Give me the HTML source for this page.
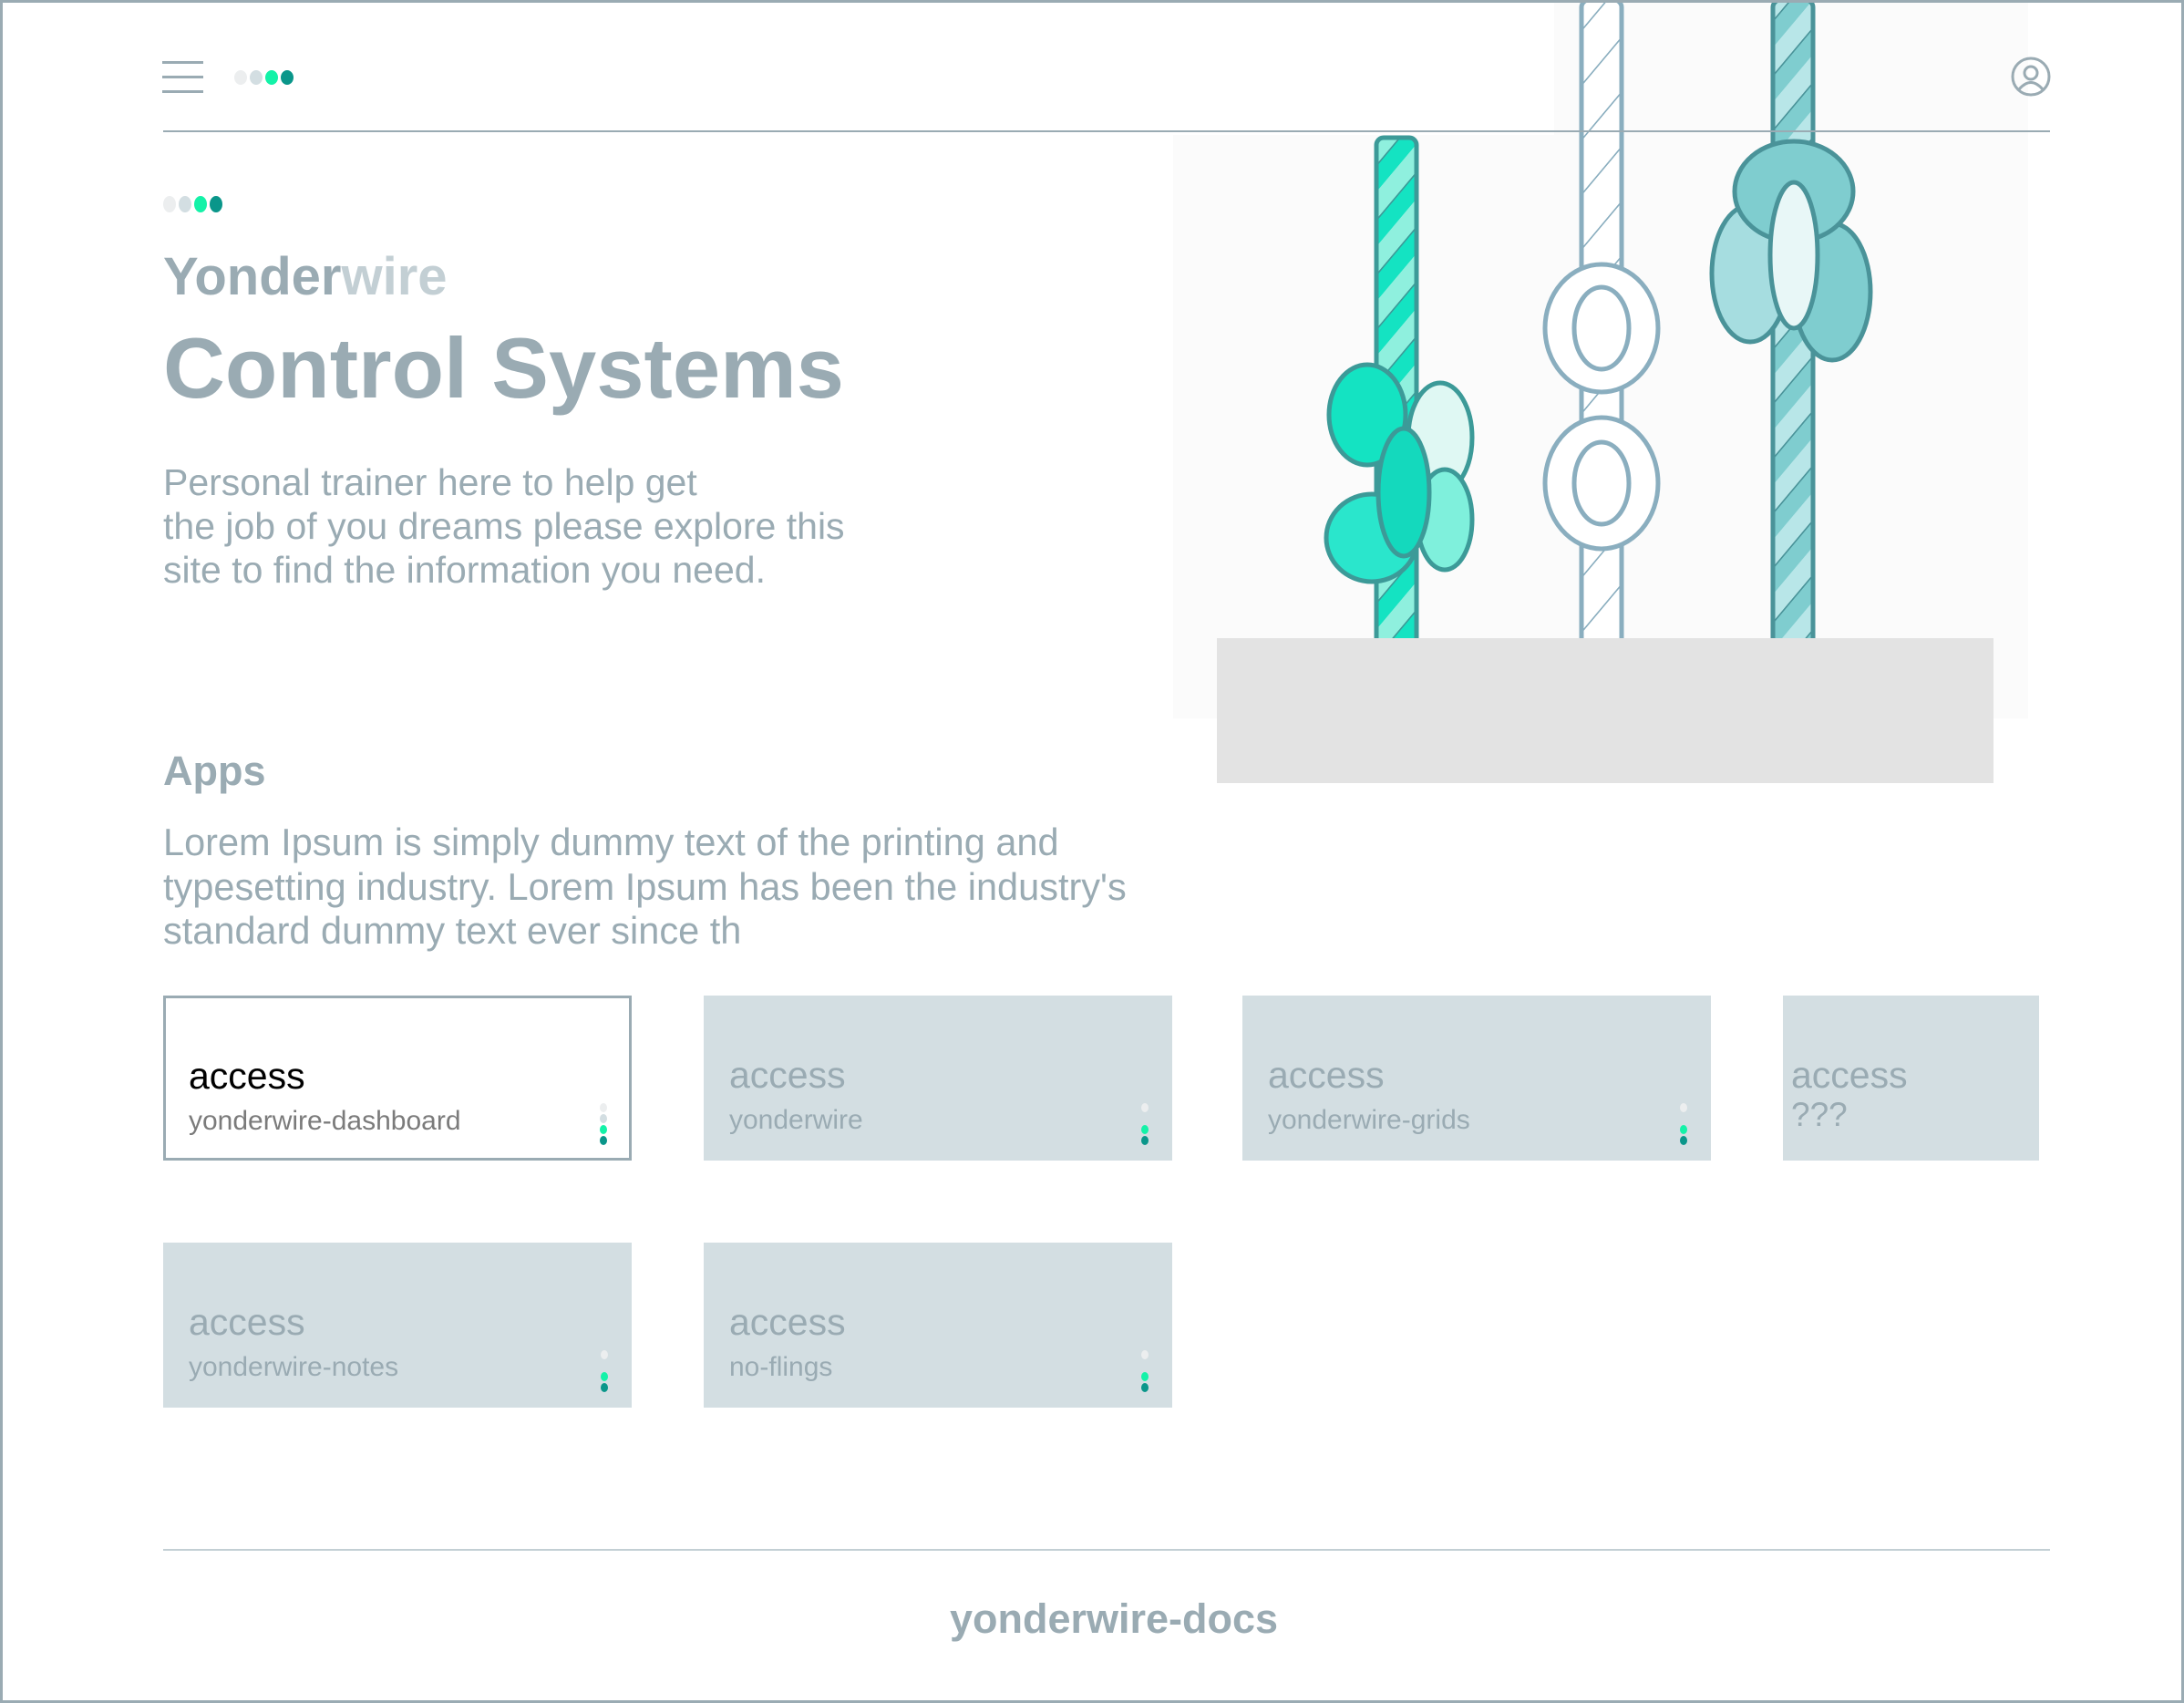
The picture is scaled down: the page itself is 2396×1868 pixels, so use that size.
<!DOCTYPE html>
<html><head><meta charset="utf-8"><style>
*{margin:0;padding:0;box-sizing:border-box}
html,body{width:2396px;height:1868px;overflow:hidden;background:#fff}
body{position:relative;font-family:"Liberation Sans",sans-serif;color:#9aabb3}
.frame{position:absolute;left:0;top:0;width:2396px;height:1868px;border:3px solid #9aabb3}
.a{position:absolute;white-space:nowrap}
.hr{position:absolute;height:2px;background:#9aabb3}
.card{position:absolute;background:#d3dee2;width:514px;height:181px}
.card .t{position:absolute;left:28px;top:64px;font-size:41px;color:#9aabb3}
.card .s{position:absolute;left:28px;top:120px;font-size:30px;color:#9aabb3}
.vd{position:absolute;right:26px;top:118px;width:8px}
.vd i{display:block;width:8px;height:10px;border-radius:50%;margin-bottom:2px}
</style></head><body>
<!-- illustration -->
<svg class="a" style="left:0;top:0" width="2396" height="900">
<defs>
<pattern id="tw1" width="46" height="60" patternUnits="userSpaceOnUse" patternTransform="skewY(-50)"><rect width="46" height="60" fill="#14e3c2"/><rect y="30" width="46" height="30" fill="#8ff0de"/><line x1="0" y1="0" x2="46" y2="0" stroke="#3c9a98" stroke-width="5"/></pattern>
<pattern id="tw2" width="46" height="60" patternUnits="userSpaceOnUse" patternTransform="skewY(-50)"><rect width="46" height="60" fill="#fff"/><line x1="0" y1="0" x2="46" y2="0" stroke="#8aaebf" stroke-width="5"/></pattern>
<pattern id="tw3" width="46" height="60" patternUnits="userSpaceOnUse" patternTransform="skewY(-50)"><rect width="46" height="60" fill="#7fcdcf"/><rect y="30" width="46" height="30" fill="#b8e6e8"/><line x1="0" y1="0" x2="46" y2="0" stroke="#4a9399" stroke-width="5"/></pattern>
</defs>
<rect x="1287" y="148" width="938" height="640" fill="#fbfbfb"/>
<rect x="1705" y="0" width="520" height="148" fill="#fbfbfb"/>
<rect x="1510" y="151" width="44" height="560" rx="8" fill="url(#tw1)" stroke="#3c9a98" stroke-width="5"/>
<ellipse cx="1500" cy="455" rx="42" ry="55" fill="#14e3c2" stroke="#3c9a98" stroke-width="5"/>
<ellipse cx="1580" cy="480" rx="35" ry="60" fill="#dff8f3" stroke="#3c9a98" stroke-width="5"/>
<ellipse cx="1505" cy="590" rx="50" ry="48" fill="#2ae6cc" stroke="#3c9a98" stroke-width="5"/>
<ellipse cx="1585" cy="570" rx="30" ry="55" fill="#7ff0dc" stroke="#3c9a98" stroke-width="5"/>
<ellipse cx="1540" cy="540" rx="28" ry="70" fill="#14d9bd" stroke="#3c9a98" stroke-width="5"/>
<rect x="1735" y="0" width="44" height="710" rx="8" fill="url(#tw2)" stroke="#8aaebf" stroke-width="5"/>
<ellipse cx="1757" cy="360" rx="62" ry="70" fill="#fff" stroke="#8aaebf" stroke-width="5"/>
<ellipse cx="1757" cy="530" rx="62" ry="72" fill="#fff" stroke="#8aaebf" stroke-width="5"/>
<ellipse cx="1757" cy="360" rx="30" ry="45" fill="none" stroke="#8aaebf" stroke-width="5"/>
<ellipse cx="1757" cy="530" rx="30" ry="45" fill="none" stroke="#8aaebf" stroke-width="5"/>
<rect x="1945" y="0" width="44" height="710" rx="8" fill="url(#tw3)" stroke="#4a9399" stroke-width="5"/>
<ellipse cx="1920" cy="300" rx="42" ry="75" fill="#a6dde0" stroke="#4a9399" stroke-width="5"/>
<ellipse cx="2010" cy="320" rx="42" ry="75" fill="#7fcdcf" stroke="#4a9399" stroke-width="5"/>
<ellipse cx="1968" cy="210" rx="65" ry="55" fill="#7fcdcf" stroke="#4a9399" stroke-width="5"/>
<ellipse cx="1968" cy="280" rx="26" ry="80" fill="#e8f7f7" stroke="#4a9399" stroke-width="5"/>
<rect x="1335" y="700" width="852" height="159" fill="#e3e3e3"/>
</svg>
<div class="frame"></div>
<div class="a" style="left:178px;top:67px;width:45px;height:3px;background:#9aabb3"></div>
<div class="a" style="left:178px;top:83px;width:45px;height:3px;background:#9aabb3"></div>
<div class="a" style="left:178px;top:99px;width:45px;height:3px;background:#9aabb3"></div>
<svg class="a" style="left:255px;top:75px" width="75" height="20">
<ellipse cx="9" cy="10" rx="7" ry="8" fill="#eceeef"/><ellipse cx="26" cy="10" rx="7" ry="8" fill="#d3dee2"/><ellipse cx="43" cy="10" rx="7" ry="8" fill="#14f2a8"/><ellipse cx="60" cy="10" rx="7" ry="8" fill="#0a968a"/></svg>
<div class="hr" style="left:179px;top:143px;width:2070px;height:1.5px"></div>
<svg class="a" style="left:2205px;top:61px" width="46" height="46"><circle cx="23" cy="23" r="20" fill="none" stroke="#9aabb3" stroke-width="3"/><circle cx="23" cy="19" r="7" fill="none" stroke="#9aabb3" stroke-width="3"/><path d="M10 37 Q23 22 36 37" fill="none" stroke="#9aabb3" stroke-width="3"/></svg>
<svg class="a" style="left:177px;top:214px" width="72" height="20">
<ellipse cx="9" cy="10" rx="7" ry="9" fill="#eceeef"/><ellipse cx="26" cy="10" rx="7" ry="9" fill="#d3dee2"/><ellipse cx="43" cy="10" rx="7" ry="9" fill="#14f2a8"/><ellipse cx="60" cy="10" rx="7" ry="9" fill="#0a968a"/></svg>
<div class="a" style="left:179px;top:270px;font-size:58px;font-weight:bold">Yonder<span style="color:#c3cfd4">wire</span></div>
<div class="a" style="left:179px;top:350px;font-size:94px;font-weight:bold">Control Systems</div>
<div class="a" style="left:179px;top:505px;font-size:41px;line-height:48px">Personal trainer here to help get<br>the job of you dreams please explore this<br>site to find the information you need.</div>
<div class="a" style="left:179px;top:820px;font-size:45px;font-weight:bold">Apps</div>
<div class="a" style="left:179px;top:900px;font-size:41.5px;line-height:48.5px">Lorem Ipsum is simply dummy text of the printing and<br>typesetting industry. Lorem Ipsum has been the industry's<br>standard dummy text ever since th</div>
<div class="card" style="left:179px;top:1092px;background:#fff;border:3px solid #9aabb3"><div class="t" style="color:#000;left:25px;top:62px">access</div><div class="s" style="color:#7b7b7b;left:25px;top:118px">yonderwire-dashboard</div><div class="vd" style="right:24px;top:115px"><i style="background:#eceeef"></i><i style="background:#d3dee2"></i><i style="background:#14f2a8"></i><i style="background:#0a968a"></i></div></div>
<div class="card" style="left:772px;top:1092px"><div class="t">access</div><div class="s">yonderwire</div><div class="vd"><i style="background:#eceeef"></i><i style="background:transparent"></i><i style="background:#14f2a8"></i><i style="background:#0a968a"></i></div></div>
<div class="card" style="left:1363px;top:1092px"><div class="t">access</div><div class="s">yonderwire-grids</div><div class="vd"><i style="background:#eceeef"></i><i style="background:transparent"></i><i style="background:#14f2a8"></i><i style="background:#0a968a"></i></div></div>
<div class="card" style="left:1956px;top:1092px;width:281px"><div class="t" style="left:9px">access</div><div class="s" style="left:9px;font-size:37px;top:110px">???</div></div>
<div class="card" style="left:179px;top:1363px"><div class="t">access</div><div class="s">yonderwire-notes</div><div class="vd"><i style="background:#eceeef"></i><i style="background:transparent"></i><i style="background:#14f2a8"></i><i style="background:#0a968a"></i></div></div>
<div class="card" style="left:772px;top:1363px"><div class="t">access</div><div class="s">no-flings</div><div class="vd"><i style="background:#eceeef"></i><i style="background:transparent"></i><i style="background:#14f2a8"></i><i style="background:#0a968a"></i></div></div>
<div class="hr" style="left:179px;top:1699px;width:2070px;height:1.5px;background:#c3cfd4"></div>
<div class="a" style="left:24px;width:2396px;text-align:center;top:1750px;font-size:45px;font-weight:bold">yonderwire-docs</div>
</body></html>
